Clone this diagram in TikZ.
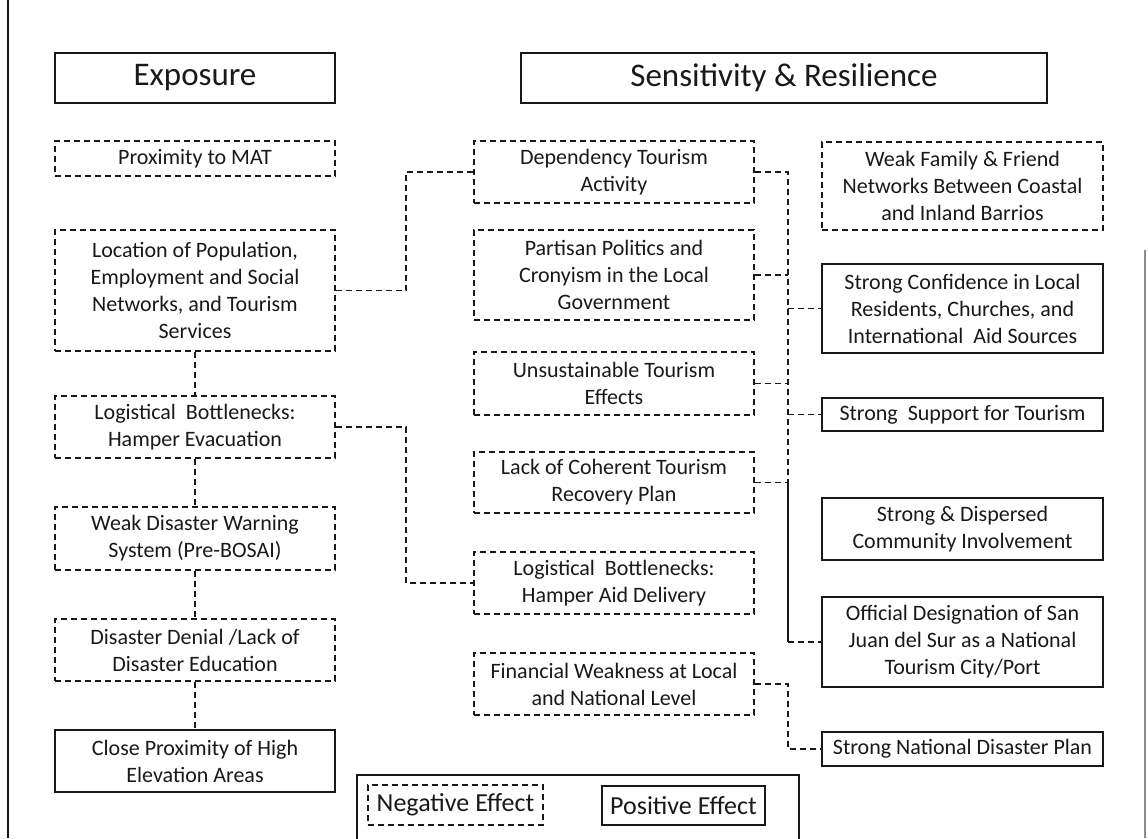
\documentclass[tikz,border=0pt]{standalone}
\usepackage{fontspec}
\setmainfont{Carlito}
\usetikzlibrary{calc}

\begin{document}
\begin{tikzpicture}[x=1pt,y=-1pt, line width=1.7pt, color={black!90},
  negbox/.style={draw, dash pattern=on 6pt off 4pt, minimum width=280, minimum height=#1,
    align=center, inner sep=2pt, font=\fontsize{22}{27}\selectfont},
  posbox/.style={draw, minimum width=280, minimum height=#1,
    align=center, inner sep=2pt, font=\fontsize{22}{27}\selectfont},
  titlebox/.style={draw, minimum height=50, font=\fontsize{33}{38}\selectfont},
  link/.style={dash pattern=on 6pt off 4pt}]
  \useasboundingbox (0,0) rectangle (1148,838);
  % page frame
  \draw[line width=2pt] (8,0) -- (8,838);
  \draw[black!45, line width=1.2pt] (1145,250) -- (1145,838);
  % column heads
  \node[titlebox, minimum width=280] (expo) at (195,78) {Exposure};
  \node[titlebox, minimum width=526] (sens) at (784,78) {Sensitivity \& Resilience};
  % exposure column
  \node[negbox=35] (mat) at (195,158.5) {Proximity to MAT};
  \node[negbox=121] (loc) at (195,290.5) {Location of Population,\\Employment and Social\\Networks, and Tourism\\Services};
  \node[negbox=62] (evac) at (195,427) {Logistical~ Bottlenecks:\\Hamper Evacuation};
  \node[negbox=63] (warn) at (195,538.5) {Weak Disaster Warning\\System (Pre-BOSAI)};
  \node[negbox=62] (denial) at (195,650) {Disaster Denial /Lack of\\Disaster Education};
  \node[posbox=62] (high) at (195,761) {Close Proximity of High\\Elevation Areas};
  % sensitivity column
  \node[negbox=62] (dep) at (614,172) {Dependency Tourism\\Activity};
  \node[negbox=90] (part) at (614,275) {Partisan Politics and\\Cronyism in the Local\\Government};
  \node[negbox=63] (unsus) at (614,383.5) {Unsustainable Tourism\\Effects};
  \node[negbox=61] (lack) at (614,482.5) {Lack of Coherent Tourism\\Recovery Plan};
  \node[negbox=62] (aid) at (614,583) {Logistical~ Bottlenecks:\\Hamper Aid Delivery};
  \node[negbox=62] (fin) at (614,684) {Financial Weakness at Local\\and National Level};
  % resilience column
  \node[negbox=88, minimum width=281] (weak) at (962.5,186) {Weak Family \& Friend\\Networks Between Coastal\\and Inland Barrios};
  \node[posbox=89, minimum width=281] (conf) at (962.5,308.5) {Strong Confidence in Local\\Residents, Churches, and\\International~ Aid Sources};
  \node[posbox=33, minimum width=281] (supp) at (962.5,414.5) {Strong~ Support for Tourism};
  \node[posbox=62, minimum width=281] (disp) at (962.5,529) {Strong \& Dispersed\\Community Involvement};
  \node[posbox=90, minimum width=281] (offi) at (962.5,642) {Official Designation of San\\Juan del Sur as a National\\Tourism City/Port};
  \node[posbox=34, minimum width=281] (natl) at (962.5,749) {Strong National Disaster Plan};
  % links down the exposure column
  \draw[link] (loc.south) -- (evac.north);
  \draw[link] (evac.south) -- (warn.north);
  \draw[link] (warn.south) -- (denial.north);
  \draw[link] (denial.south) -- (high.north);
  % links across to the middle column
  \draw[link] (loc.east) -- ++(70,0) |- (dep.west);
  \draw[link] (evac.east) -- ++(70,0) |- (aid.west);
  % bus on the right of the middle column
  \coordinate (bus) at (788,0);
  \draw[link] (dep.east) -| (bus |- lack.east);
  \draw[link] (part.east) -- (bus |- part.east);
  \draw[link] (unsus.east) -- (bus |- unsus.east);
  \draw[link] (bus |- conf.west) -- (conf.west);
  \draw[link] (bus |- supp.west) -- (supp.west);
  \draw[link] (lack.east) -- (bus |- lack.east);
  \draw (bus |- lack.east) -- (bus |- offi.west);
  \draw[link] (bus |- offi.west) -- (offi.west);
  \draw[link] (fin.east) -| (bus |- natl.west) -- (natl.west);
  % legend
  \draw (357,845) -- (357,775) -- (799,775) -- (799,845);
  \node[draw, dash pattern=on 6pt off 4pt, minimum width=175, minimum height=40, inner sep=2pt,
    font=\fontsize{26}{30}\selectfont] (neg) at (455.5,805) {Negative Effect};
  \node[draw, minimum width=163, minimum height=39, inner sep=2pt,
    font=\fontsize{26}{30}\selectfont] (pos) at (683.5,805.5) {Positive Effect};
\end{tikzpicture}
\end{document}
